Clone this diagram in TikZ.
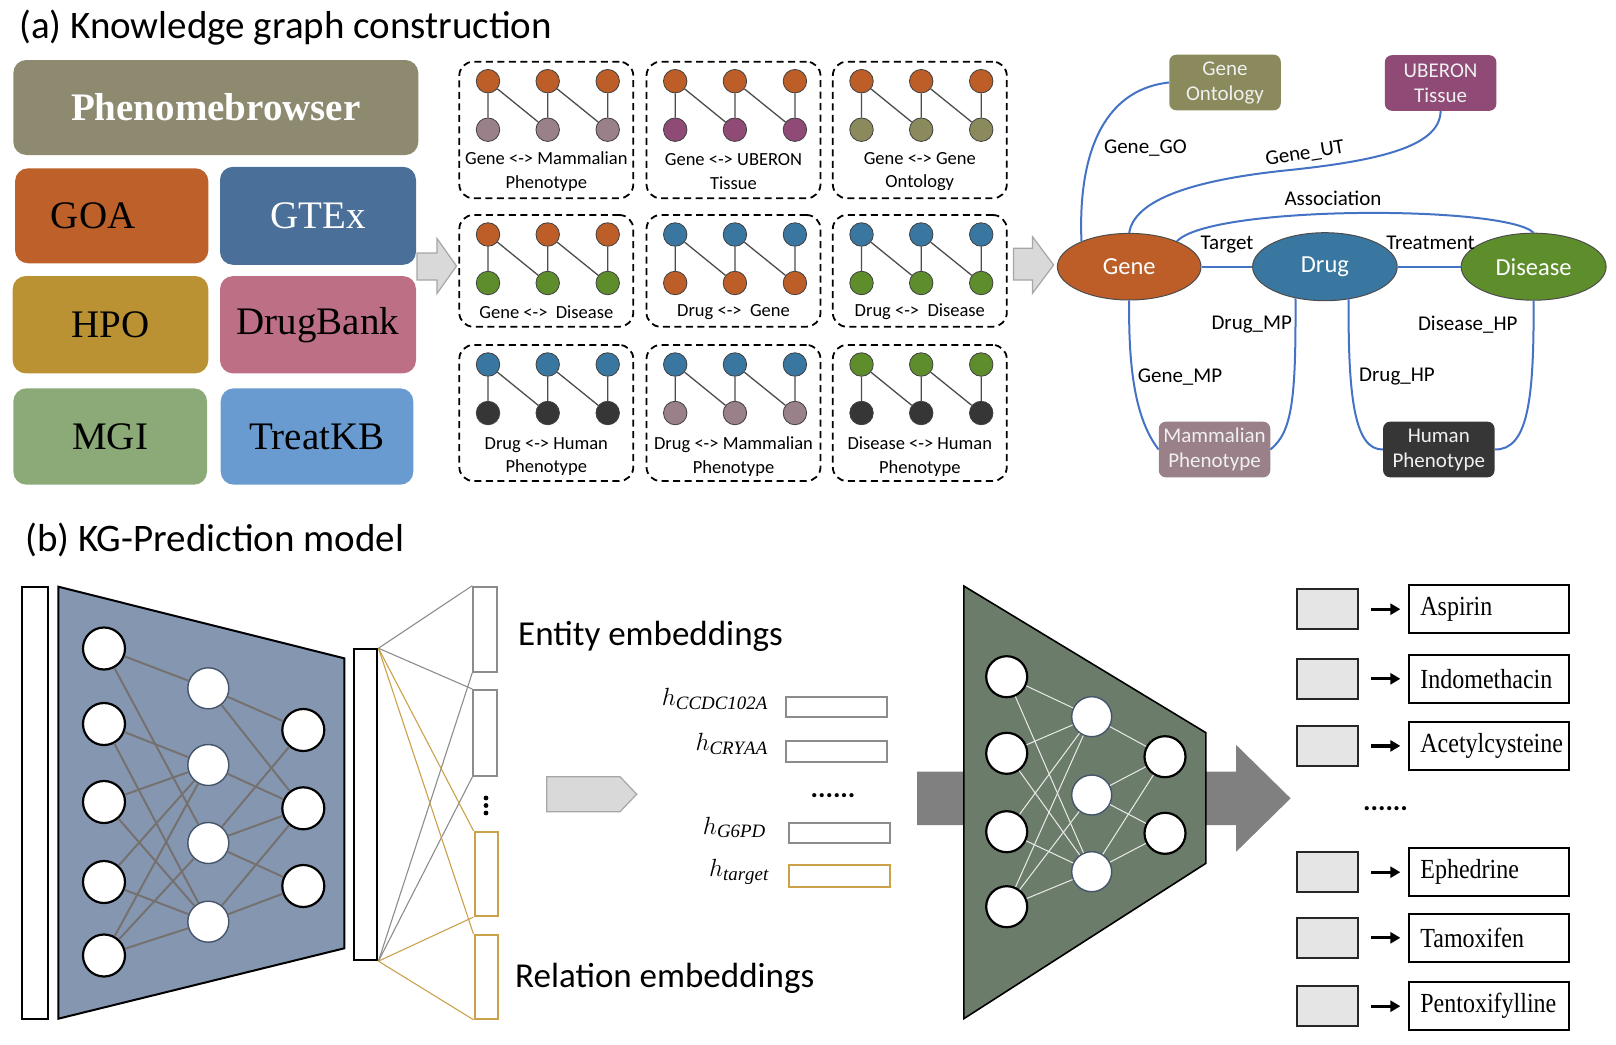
\documentclass[tikz,border=0pt]{standalone}
\usepackage{fontspec}
\setmainfont{Liberation Serif}
\newfontfamily\carl{Carlito}
\usetikzlibrary{shapes.geometric,arrows.meta}
\definecolor{cGene}{RGB}{189,94,40}
\definecolor{cDrug}{RGB}{58,119,160}
\definecolor{cDis}{RGB}{94,142,44}
\definecolor{cMP}{RGB}{153,128,137}
\definecolor{cUB}{RGB}{143,74,118}
\definecolor{cGO}{RGB}{139,138,92}
\definecolor{cHP}{RGB}{54,54,54}
\definecolor{cPB}{RGB}{141,138,112}
\definecolor{cGOA}{RGB}{189,96,41}
\definecolor{cGTEx}{RGB}{74,111,152}
\definecolor{cHPO}{RGB}{186,146,52}
\definecolor{cDB}{RGB}{189,112,133}
\definecolor{cMGI}{RGB}{139,170,119}
\definecolor{cTKB}{RGB}{106,155,208}
\definecolor{cEdge}{RGB}{68,114,196}
\definecolor{cTrapB}{RGB}{133,151,176}
\definecolor{cTrapG}{RGB}{107,124,106}
\definecolor{cGold}{RGB}{201,162,75}
\definecolor{cGrayE}{RGB}{140,140,140}
\definecolor{cArrowL}{RGB}{217,217,217}
\definecolor{cArrowO}{RGB}{166,166,166}
\definecolor{cNet}{RGB}{118,113,113}
\definecolor{cNavy}{RGB}{68,84,106}

\newcommand\panel[8]{%
  \node[panelbox, minimum height=#4] (#1) at (#2+87,#3+#4/2) {};
  \foreach \i/\dx in {1/28.7,2/88.4,3/148.4}{
    \node[mini, fill=#5] (#1t\i) at (#2+\dx,#3+19.5) {};
    \node[mini, fill=#6] (#1b\i) at (#2+\dx,#3+68) {};
  }
  \draw[minil] (#1t1)--(#1b1) (#1t2)--(#1b2) (#1t3)--(#1b3) (#1t1)--(#1b2) (#1t2)--(#1b3);
  \node[panellab] (#1lab) at (#2+87,#3+#8) {#7};
}
\newcommand\outrow[3]{%
  \node[graysq] (#1s) at (1327.4,#2) {};
  \node[outbox] (#1) at (1489.2,#2) {\scalebox{1}[1.15]{#3}};
  \draw[outarr] (#1s) -- (#1);
}

\begin{document}
\begin{tikzpicture}[x=1pt,y=-1pt,
  panelbox/.style={draw, dash pattern=on 7pt off 4.5pt, line width=1.8pt, rounded corners=14pt, minimum width=174pt, inner sep=0},
  mini/.style={circle, draw=black!75, line width=0.8pt, minimum size=23.5pt, inner sep=0},
  minil/.style={draw=black!70, line width=1.3pt},
  panellab/.style={font=\carl\fontsize{18.5}{23.3}\selectfont, align=center, inner sep=0},
  src/.style={rounded corners=13pt, inner sep=0, font=\fontsize{39}{44}\selectfont},
  ell/.style={ellipse, draw=black!70, line width=1pt, text=white, font=\carl\fontsize{24.5}{28}\selectfont, inner sep=0},
  kgbox/.style={rounded corners=7pt, text=white!94!black, font=\carl\fontsize{21}{25}\selectfont, align=center, inner sep=0, minimum width=111.5pt, minimum height=55.6pt},
  kge/.style={draw=cEdge, line width=2pt},
  kgl/.style={font=\carl\fontsize{21}{25}\selectfont, inner sep=0},
  ttl/.style={anchor=base west, inner sep=0, font=\carl\fontsize{39}{44}\selectfont},
  nA/.style={circle, draw=black, line width=2.2pt, fill=white, minimum size=42pt, inner sep=0},
  nB/.style={circle, draw=cNavy, line width=1.4pt, fill=white, minimum size=41pt, inner sep=0},
  netl/.style={draw=cNet, line width=2pt},
  wl/.style={draw=white!92!black, line width=1pt},
  bar/.style={draw=black, line width=2.2pt, fill=white, inner sep=0},
  embg/.style={draw=cGrayE, line width=2pt, fill=white, minimum width=23.4pt, inner sep=0},
  embo/.style={draw=cGold, line width=2pt, fill=white, minimum width=23.4pt, inner sep=0},
  fang/.style={draw=cGrayE, line width=1.1pt},
  fano/.style={draw=cGold, line width=1.1pt},
  hlab/.style={anchor=base east, inner sep=0, font=\fontsize{27}{30}\selectfont},
  hrect/.style={draw=cGrayE, line width=2pt, minimum width=100.7pt, inner sep=0},
  emlab/.style={anchor=base west, inner sep=0, font=\carl\fontsize{35}{40}\selectfont},
  graysq/.style={draw=black!85, line width=2pt, fill=black!10, minimum width=61.4pt, minimum height=39.5pt, inner sep=0},
  outbox/.style={draw=black, line width=2pt, minimum height=48.5pt, inner xsep=11pt, inner ysep=0, text width=137.7pt, align=left, font=\fontsize{24}{28}\selectfont},
  outarr/.style={-{Triangle[length=10pt,width=11pt]}, line width=3.2pt, shorten <=12pt, shorten >=8pt},
  dots/.style={inner sep=0, font=\carl\bfseries\fontsize{28}{30}\selectfont}
]
\useasboundingbox (0,0) rectangle (1616,1044);

% ---------- (a) ----------
\node[ttl] (ta) at (19,38) {(a) Knowledge graph construction};

\node[src, fill=cPB, minimum width=405pt, minimum height=95pt, text=white, font=\bfseries\fontsize{39}{44}\selectfont] (pb) at (215.8,107.5) {Phenomebrowser};
\node[src, fill=cGOA, minimum width=193.3pt, minimum height=95pt] (goa) at (111.7,215.8) {GOA\hspace*{37pt}};
\node[src, fill=cGTEx, minimum width=196pt, minimum height=98pt, text=white] (gtex) at (318,215.8) {GTEx};
\node[src, fill=cHPO, minimum width=195.6pt, minimum height=97.3pt] (hpo) at (110.5,324.7) {HPO};
\node[src, fill=cDB, minimum width=196pt, minimum height=97.3pt] (drugbank) at (318,324.7) {DrugBank};
\node[src, fill=cMGI, minimum width=193.7pt, minimum height=96.3pt] (mgi) at (110.2,436.5) {MGI};
\node[src, fill=cTKB, minimum width=192.6pt, minimum height=96.3pt] (treatkb) at (317,436.5) {TreatKB};

\filldraw[fill=cArrowL, draw=cArrowO, line width=1.2pt] (417,253) -- (437,253) -- (437,238.5) -- (456.5,266) -- (437,293.5) -- (437,280) -- (417,280) -- cycle;

\panel{p11}{459.3}{61.7}{136.6}{cGene}{cMP}{Gene <-> Mammalian\\Phenotype}{110}
\panel{p12}{646.5}{61.7}{136.6}{cGene}{cUB}{Gene <-> UBERON\\Tissue}{110}
\panel{p13}{832.8}{61.7}{136.6}{cGene}{cGO}{Gene <-> Gene\\Ontology}{110}
\panel{p21}{459.3}{215}{111.7}{cGene}{cDis}{Gene <->\ \ Disease}{96.7}
\panel{p22}{646.5}{215}{111.7}{cDrug}{cGene}{Drug <->\ \ Gene}{96.7}
\panel{p23}{832.8}{215}{111.7}{cDrug}{cDis}{Drug <->\ \ Disease}{96.7}
\panel{p31}{459.3}{345}{136}{cDrug}{cHP}{Drug <-> Human\\Phenotype}{111.7}
\panel{p32}{646.5}{345}{136}{cDrug}{cMP}{Drug <-> Mammalian\\Phenotype}{111.7}
\panel{p33}{832.8}{345}{136}{cDis}{cHP}{Disease <-> Human\\Phenotype}{111.7}

\filldraw[fill=cArrowL, draw=cArrowO, line width=1.2pt] (1013.4,248.3) -- (1032.5,248.3) -- (1032.5,236.7) -- (1053.6,265) -- (1032.5,293.3) -- (1032.5,280) -- (1013.4,280) -- cycle;

% knowledge graph
\node[ell, fill=cGene, minimum width=143.6pt, minimum height=66.6pt] (gene) at (1129.2,266.7) {Gene};
\node[ell, fill=cDrug, minimum width=144.6pt, minimum height=68pt] (drug) at (1324.9,266.7) {Drug};
\node[ell, fill=cDis, minimum width=145pt, minimum height=67pt] (disease) at (1533.6,266.7) {Disease};
\node[kgbox, fill=cGO] (go) at (1225,82.5) {Gene\\Ontology};
\node[kgbox, fill=cUB] (uberon) at (1440.6,83) {UBERON\\Tissue};
\node[kgbox, fill=cMP] (mp) at (1214.5,449.5) {Mammalian\\Phenotype};
\node[kgbox, fill=cHP] (hp) at (1438.8,449.5) {Human\\Phenotype};

\draw[kge] (gene.152) .. controls (1078,160) and (1100,90) .. (go.west);
\draw[kge] (gene.north) .. controls (1135,195) and (1210,178) .. (1290,170) .. controls (1385,160) and (1440,145) .. (uberon.south);
\draw[kge] (gene.28) .. controls (1210,205) and (1505,205) .. (disease.north);
\draw[kge] (gene.east) -- (drug.west);
\draw[kge] (drug.east) -- (disease.west);
\draw[kge] (gene.south) .. controls (1128,385) and (1140,425) .. (mp.west);
\draw[kge] (drug.227) .. controls (1296,400) and (1292,432) .. (mp.east);
\draw[kge] (drug.306) .. controls (1348,400) and (1355,450) .. (hp.west);
\draw[kge] (disease.south) .. controls (1534,400) and (1528,450) .. (hp.east);

\node[kgl] (lgo) at (1145.4,148.3) {Gene\_GO};
\node[kgl, rotate=9] (lut) at (1305,154) {Gene\_UT};
\node[kgl] (lassoc) at (1333,198.3) {Association};
\node[kgl] (ltarget) at (1227,245) {Target};
\node[kgl] (ltreat) at (1430.5,243.3) {Treatment};
\node[kgl] (lgmp) at (1180,376.7) {Gene\_MP};
\node[kgl] (ldmp) at (1251.7,325) {Drug\_MP};
\node[kgl] (ldhp) at (1397,376.7) {Drug\_HP};
\node[kgl] (ldishp) at (1467.8,325) {Disease\_HP};

% ---------- (b) ----------
\node[ttl] (tb) at (25,551.7) {(b) KG-Prediction model};

\node[bar, minimum width=26.6pt, minimum height=432pt] (inbar) at (35,802.7) {};
\filldraw[fill=cTrapB, draw=black, line width=2pt] (58.3,586.7) -- (344.3,658.3) -- (344.3,948.3) -- (58.3,1018.7) -- cycle;

\foreach \n/\y in {1/648.5,2/724,3/802,4/882,5/955.5} \node[nA] (a\n) at (104,\y) {};
\foreach \n/\y in {1/688.3,2/765,3/843,4/921.7} \node[nB] (b\n) at (208.3,\y) {};
\foreach \n/\y in {1/730,2/808.3,3/886} \node[nA] (c\n) at (303.3,\y) {};
\foreach \s/\t in {a1/b1,a1/b3,a2/b2,a2/b4,a3/b2,a3/b4,a4/b2,a4/b4,a5/b2,a5/b3,a5/b4,b1/c1,b1/c2,b2/c2,b3/c1,b3/c2,b3/c3,b4/c2,b4/c3}
  \draw[netl] (\s) -- (\t);

\node[bar, minimum width=23.3pt, minimum height=310.7pt] (hbar) at (365.7,804.7) {};
\node[embg, minimum height=85pt] (e1) at (485,629.2) {};
\node[embg, minimum height=86pt] (e2) at (485,733) {};
\node[embo, minimum height=84.3pt] (r1) at (486.2,873.9) {};
\node[embo, minimum height=83.7pt] (r2) at (486.2,976.9) {};
\draw[fang] (hbar.north east) -- (e1.north west);
\draw[fang] (hbar.north east) -- (e2.north west);
\draw[fang] (hbar.south east) -- (e1.south west);
\draw[fang] (hbar.south east) -- (e2.south west);
\draw[fano] (hbar.north east) -- (r1.north west);
\draw[fano] (hbar.north east) -- (r2.north west);
\draw[fano] (hbar.south east) -- (r1.south west);
\draw[fano] (hbar.south east) -- (r2.south west);
\fill (486,798) circle (2.4) (486,805.5) circle (2.4) (486,813) circle (2.4);

\node[emlab] (lent) at (518,645.8) {Entity embeddings};
\node[emlab] (lrel) at (515,987) {Relation embeddings};

\filldraw[fill=cArrowL, draw=cArrowO, line width=1.2pt] (546.7,776.7) -- (620,776.7) -- (636.7,794.2) -- (620,811.7) -- (546.7,811.7) -- cycle;

\node[hlab] (h1) at (768,705) {$h_{\mathit{CCDC102A}}$};
\node[hlab] (h2) at (768,750.7) {$h_{\mathit{CRYAA}}$};
\node[hlab] (h3) at (766,834) {$h_{\mathit{G6PD}}$};
\node[hlab] (h4) at (769,876.7) {$h_{\mathit{target}}$};
\node[hrect, minimum height=20.6pt] (hr1) at (836.4,707) {};
\node[hrect, minimum height=20.7pt] (hr2) at (836.4,751.4) {};
\node[hrect, minimum height=20pt] (hr3) at (839.7,832.7) {};
\node[hrect, draw=cGold, minimum height=21.7pt] (hr4) at (839.7,875.9) {};
\node[dots, anchor=base] (mdots) at (833,797) {......};

% right model
\fill[black!50] (917.2,771.7) -- (1236.2,771.7) -- (1236.2,745) -- (1290.6,798.3) -- (1236.2,851.7) -- (1236.2,825) -- (917.2,825) -- cycle;
\filldraw[fill=cTrapG, draw=black, line width=1.6pt] (963.8,586) -- (1205.9,732.7) -- (1205.9,863.3) -- (963.8,1018.7) -- cycle;
\foreach \n/\y in {1/676.7,2/753.3,3/831.7,4/906.7} \node[nA, minimum size=41pt] (ga\n) at (1006.7,\y) {};
\foreach \n/\y in {1/716.7,2/795,3/871.7} \node[nB, minimum size=40pt] (gb\n) at (1091.7,\y) {};
\foreach \n/\y in {1/756.7,2/833.3} \node[nA, minimum size=41pt] (gc\n) at (1165,\y) {};
\foreach \s/\t in {ga1/gb1,ga1/gb3,ga2/gb1,ga2/gb3,ga3/gb1,ga3/gb3,ga4/gb1,ga4/gb2,ga4/gb3,gb1/gc1,gb2/gc1,gb2/gc2,gb3/gc1,gb3/gc2}
  \draw[wl] (\s) -- (\t);

\outrow{o1}{609.2}{Aspirin}
\outrow{o2}{678.8}{Indomethacin}
\outrow{o3}{745.9}{Acetylcysteine}
\outrow{o4}{872.2}{Ephedrine}
\outrow{o5}{937.8}{Tamoxifen}
\outrow{o6}{1006.2}{Pentoxifylline}
\node[dots, anchor=base] (rdots) at (1385.5,810) {......};
\end{tikzpicture}
\end{document}
